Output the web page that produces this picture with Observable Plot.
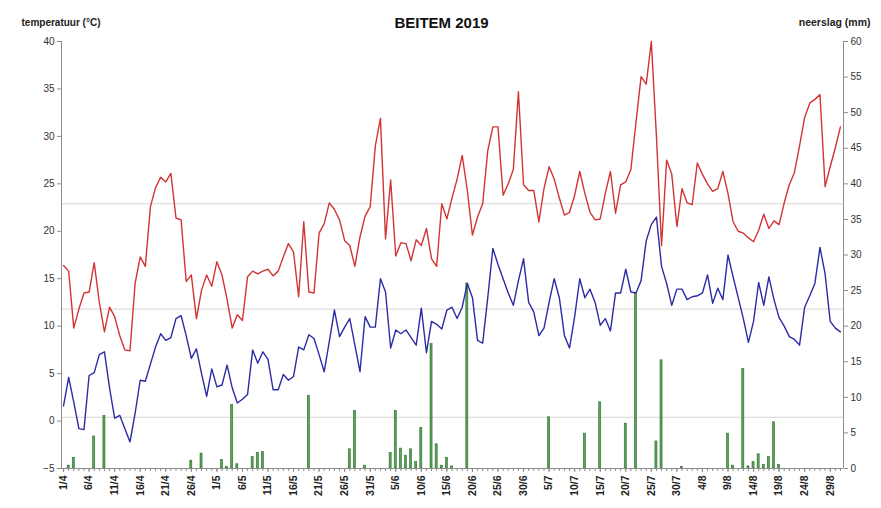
<!DOCTYPE html>
<html><head><meta charset="utf-8">
<script src="https://cdn.jsdelivr.net/npm/d3@7"></script>
<script src="https://cdn.jsdelivr.net/npm/@observablehq/plot@0.6"></script>
<style>body{margin:0;background:#fff;} svg{display:block}</style>
</head><body><div id="chart"></div>
<script>
// Daily maximum temperature (°C), 1/4 .. 31/8/2019
const tmax = [16.4,15.8,9.8,11.8,13.5,13.6,16.7,12.5,9.4,12.0,
11.0,9.0,7.5,7.4,14.5,17.3,16.3,22.6,24.6,25.7,
25.2,26.1,21.4,21.2,14.7,15.4,10.8,13.8,15.4,14.2,
16.8,15.4,12.8,9.8,11.2,10.6,15.2,15.8,15.5,15.8,
16.0,15.3,15.8,17.3,18.7,17.8,13.1,21.0,13.6,13.5,
19.8,20.8,23.0,22.3,21.2,19.0,18.5,16.3,19.4,21.6,
22.6,29.0,31.9,19.2,25.4,17.4,18.8,18.7,16.9,19.1,
18.5,20.3,17.1,16.3,22.9,21.3,23.5,25.5,28.0,24.3,
19.6,21.5,22.9,28.5,31.0,31.0,23.8,25.0,26.5,34.7,
24.9,24.3,24.3,21.0,24.5,26.8,25.5,23.5,21.7,22.0,
23.8,26.3,24.0,22.0,21.2,21.3,24.0,26.3,21.9,24.9,
25.2,26.5,31.5,36.3,35.5,40.0,30.0,18.5,27.5,26.0,
20.5,24.5,23.0,22.8,27.2,26.0,25.0,24.2,24.5,26.3,
24.0,21.0,20.0,19.8,19.3,18.9,20.1,21.8,20.3,21.1,
20.7,23.0,24.9,26.2,29.0,32.0,33.5,33.9,34.4,24.7,
26.8,28.8,31.0];
// Daily minimum temperature (°C)
const tmin = [1.6,4.6,2.0,-0.8,-0.9,4.8,5.1,7.0,7.3,3.5,
0.3,0.6,-0.8,-2.2,0.8,4.3,4.2,6.0,7.8,9.2,
8.5,8.8,10.8,11.1,9.0,6.6,7.6,5.0,2.6,5.5,
3.6,3.8,5.9,3.5,1.9,2.3,2.8,7.5,6.1,7.3,
6.5,3.3,3.3,4.9,4.3,4.7,7.8,7.5,9.1,8.7,
7.0,5.2,8.4,11.7,8.9,9.9,10.8,8.0,5.2,11.0,
9.9,9.9,15.0,13.6,7.7,9.6,9.2,9.6,8.8,8.0,
11.9,7.2,10.5,10.2,9.7,11.7,12.0,10.8,12.0,14.5,
13.0,8.5,8.2,13.0,18.2,16.5,15.0,13.5,12.2,14.8,
17.1,12.5,11.5,9.0,9.8,12.5,15.0,13.0,9.0,7.7,
11.0,15.0,13.0,13.9,12.5,10.1,10.8,9.5,13.5,13.5,
16.0,13.6,13.5,14.8,19.0,20.7,21.5,16.3,14.5,12.2,
13.9,13.9,12.8,13.1,13.2,13.5,15.4,12.4,14.0,12.8,
17.5,15.2,13.0,10.8,8.3,10.5,14.6,12.2,15.2,12.8,
10.9,10.0,8.9,8.6,8.0,12.0,13.2,14.5,18.3,15.5,
10.5,9.8,9.4];
// Precipitation: day index (0 = 1/4) and amount (mm)
const rainDay = [1,2,6,8,25,27,31,32,33,34,37,38,39,48,56,57,59,64,65,66,67,68,69,70,72,73,74,75,76,79,95,102,105,110,112,116,117,121,130,131,133,134,135,136,137,138,139,140];
const rainMm  = [0.4,1.5,4.5,7.4,1.1,2.1,1.2,0.2,8.9,0.6,1.6,2.2,2.3,10.2,2.7,8.1,0.4,2.2,8.1,2.8,1.8,2.7,0.9,5.7,17.5,3.4,0.4,1.5,0.3,26.0,7.2,4.9,9.3,6.3,24.5,3.8,15.2,0.2,4.9,0.4,14.0,0.3,0.9,2.0,0.5,1.6,6.5,0.5];
const xTickLabels = ["1/4","6/4","11/4","16/4","21/4","26/4","1/5","6/5","11/5","16/5","21/5","26/5","31/5","5/6","10/6","15/6","20/6","25/6","30/6","5/7","10/7","15/7","20/7","25/7","30/7","4/8","9/8","14/8","19/8","24/8","29/8"];
const tempTicks = [-5,0,5,10,15,20,25,30,35,40];
const rainTicks = [0,5,10,15,20,25,30,35,40,45,50,55,60];
const refLines = [22.9, 11.8, 0.4];

const toT = p => -5 + p * 45 / 60;
const toP = t => Math.round((t + 5) * 60 / 45);
const tempData = tmax.map((v, i) => ({d: i, tmax: v, tmin: tmin[i]}));
const rain = rainDay.map((d, i) => ({d, mm: rainMm[i]}));
const labelDays = xTickLabels.map((_, i) => i * 5);

const chart = Plot.plot({
  width: 881, height: 508,
  marginLeft: 61, marginRight: 38, marginTop: 41, marginBottom: 40,
  style: {fontFamily: "'Liberation Sans', Arial, sans-serif", fontSize: "10px", background: "#fff", color: "#333"},
  x: {domain: [-0.4, 152.6], axis: null},
  y: {domain: [-5, 40], axis: null},
  marks: [
    Plot.ruleY(refLines, {stroke: "#d6d6d6", strokeWidth: 1}),
    Plot.rect(rain, {x1: d => d.d - 0.2, x2: d => d.d + 0.2, y1: -5, y2: d => toT(d.mm), fill: "#56a456", stroke: "#2e6b2e", strokeWidth: 0.6}),
    Plot.line(tempData, {x: "d", y: "tmax", stroke: "#d23434", strokeWidth: 1.4}),
    Plot.line(tempData, {x: "d", y: "tmin", stroke: "#2b2ba6", strokeWidth: 1.4}),
    Plot.ruleX([-0.4, 152.6], {stroke: "#8c8c8c"}),
    Plot.ruleY([-5], {stroke: "#8c8c8c"}),
    Plot.axisY(tempTicks, {anchor: "left", label: null, tickSize: 4, tickPadding: 3, stroke: "#8c8c8c", fill: "#333", fontSize: 10}),
    Plot.axisY(rainTicks.map(toT), {anchor: "right", label: null, tickSize: 4, tickPadding: 3, tickFormat: toP, stroke: "#8c8c8c", fill: "#333", fontSize: 10}),
    Plot.axisX(d3.range(0, 153), {label: null, tickSize: 3, tickFormat: () => "", stroke: "#8c8c8c"}),
    Plot.axisX(labelDays, {label: null, tickSize: 4, tickPadding: 3, tickRotate: -90, tickFormat: d => xTickLabels[d / 5], stroke: "#8c8c8c", fill: "#222", fontWeight: "bold", fontSize: 10.5}),
    Plot.text(["BEITEM 2019"], {frameAnchor: "top", dx: -11, dy: -24, fontSize: 15, fontWeight: "bold", fill: "#111"}),
    Plot.text(["temperatuur (°C)"], {frameAnchor: "top-left", dx: -40, dy: -23, textAnchor: "start", fontSize: 10, fontWeight: "bold", fill: "#222"}),
    Plot.text(["neerslag (mm)"], {frameAnchor: "top-right", dx: 27, dy: -23, textAnchor: "end", fontSize: 10.5, fontWeight: "bold", fill: "#222"})
  ]
});
document.getElementById("chart").appendChild(chart);
</script>
</body></html>
